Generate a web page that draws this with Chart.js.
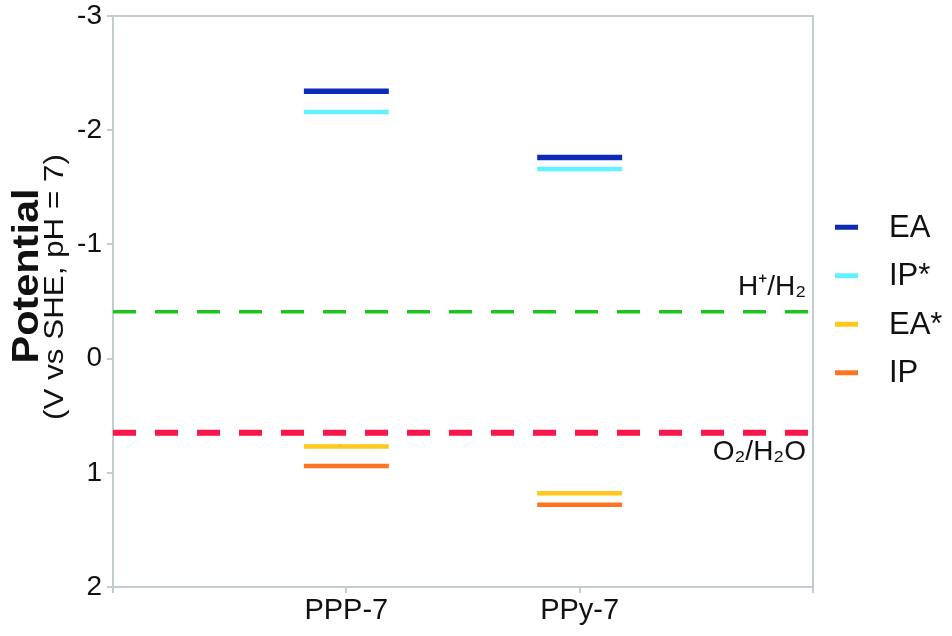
<!DOCTYPE html>
<html>
<head>
<meta charset="utf-8">
<script src="https://cdn.jsdelivr.net/npm/chart.js@4.4.1/dist/chart.umd.min.js"></script>
<style>
html,body{margin:0;padding:0;background:#fff;}
#wrap{width:952px;height:636px;position:relative;}
</style>
</head>
<body>
<div id="wrap"><canvas id="c"></canvas></div>
<script>
// ---- data ----
const categories = ['PPP-7', 'PPy-7'];
const seriesNames = ['EA', 'IP*', 'EA*', 'IP'];
const EA = [-2.34, -1.76];
const IPstar = [-2.16, -1.66];
const EAstar = [0.77, 1.18];
const IP = [0.94, 1.28];
const yTicks = [-3, -2, -1, 0, 1, 2];
const refNames = ['H⁺/H₂', 'O₂/H₂O'];
const refValues = [-0.41, 0.65];

// ---- styles ----
const FONT = '"Liberation Sans", Arial, Helvetica, sans-serif';
const seriesColors = ['#0c2ab4', '#62f2ff', '#ffc81a', '#ff7420'];
const seriesWidths = [5.5, 4.5, 4.5, 4.5];
const refColors = ['#1ec41e', '#f8164a'];
const refWidths = [3.5, 6];
const axisGray = '#c3cdd0';
const HALF = 0.182;

const seriesValues = [EA, IPstar, EAstar, IP];

function segments(vals) {
  const pts = [];
  categories.forEach((c, i) => {
    pts.push({x: i + 1 - HALF, y: vals[i]});
    pts.push({x: i + 1 + HALF, y: vals[i]});
    pts.push({x: i + 1.5, y: null});
  });
  return pts;
}

const datasets = [];
seriesNames.forEach((name, k) => {
  datasets.push({
    label: name,
    data: segments(seriesValues[k]),
    borderColor: seriesColors[k],
    backgroundColor: seriesColors[k],
    borderWidth: seriesWidths[k],
    pointRadius: 0,
    spanGaps: false,
    borderCapStyle: 'butt',
    isSeries: true
  });
});
refNames.forEach((name, k) => {
  datasets.push({
    label: name,
    data: [{x: 0, y: refValues[k]}, {x: 3, y: refValues[k]}],
    borderColor: refColors[k],
    borderWidth: refWidths[k],
    borderDash: [23, 19],
    pointRadius: 0,
    isRef: true,
    refAbove: k === 0
  });
});

const framePlugin = {
  id: 'frame',
  beforeDatasetsDraw(chart) {
    const {ctx, chartArea: a} = chart;
    ctx.save();
    ctx.strokeStyle = axisGray;
    ctx.lineWidth = 2;
    ctx.beginPath();
    ctx.moveTo(a.left, a.top);
    ctx.lineTo(a.right, a.top);
    ctx.lineTo(a.right, a.bottom);
    ctx.stroke();
    ctx.restore();
  }
};

const annotPlugin = {
  id: 'annot',
  afterDraw(chart) {
    const {ctx, chartArea: a, scales} = chart;
    ctx.save();
    // reference line labels
    ctx.fillStyle = '#111';
    ctx.font = '28px ' + FONT;
    ctx.textAlign = 'right';
    ctx.textBaseline = 'alphabetic';
    chart.data.datasets.forEach(ds => {
      if (!ds.isRef) return;
      const y = scales.y.getPixelForValue(ds.data[0].y);
      ctx.fillText(ds.label, a.right - 7, ds.refAbove ? y - 17 : y + 27);
    });
    // legend
    const series = chart.data.datasets.filter(d => d.isSeries);
    const yc = (a.top + a.bottom) / 2 - 1.5;
    const gap = 48.5;
    series.forEach((ds, k) => {
      const y = yc + (k - (series.length - 1) / 2) * gap;
      ctx.strokeStyle = ds.borderColor;
      ctx.lineWidth = 5;
      ctx.beginPath();
      ctx.moveTo(835, y);
      ctx.lineTo(858, y);
      ctx.stroke();
      ctx.fillStyle = '#111';
      ctx.font = '31px ' + FONT;
      ctx.textAlign = 'left';
      ctx.textBaseline = 'middle';
      ctx.fillText(ds.label, 889, y + 1);
    });
    // y axis title
    const midY = 276;
    ctx.fillStyle = '#111';
    ctx.textAlign = 'center';
    ctx.textBaseline = 'alphabetic';
    ctx.save();
    ctx.translate(38, midY);
    ctx.rotate(-Math.PI / 2);
    ctx.scale(1.12, 1);
    ctx.font = 'bold 37px ' + FONT;
    ctx.fillText('Potential', 0, 0);
    ctx.restore();
    ctx.save();
    ctx.translate(63, midY + 11);
    ctx.rotate(-Math.PI / 2);
    ctx.scale(1.12, 1);
    ctx.font = '28px ' + FONT;
    ctx.fillText('(V vs SHE, pH = 7)', 0, 0);
    ctx.restore();
    ctx.restore();
  }
};

new Chart(document.getElementById('c'), {
  type: 'line',
  data: {datasets},
  options: {
    responsive: true,
    maintainAspectRatio: false,
    animation: false,
    events: [],
    layout: {padding: {left: 0, right: 139, top: 16, bottom: 0}},
    plugins: {legend: {display: false}, tooltip: {enabled: false}},
    scales: {
      x: {
        type: 'linear',
        min: 0,
        max: 3,
        afterBuildTicks: s => { s.ticks = [0, 1, 2, 3].map(v => ({value: v})); },
        afterFit: s => { s.height = 49; },
        ticks: {
          callback: v => categories[v - 1] ?? '',
          font: {family: FONT, size: 29},
          color: '#111',
          padding: 1,
          maxRotation: 0,
          autoSkip: false
        },
        grid: {drawOnChartArea: false, drawTicks: true, tickLength: 6, color: axisGray, lineWidth: 2},
        border: {display: true, color: axisGray, width: 2}
      },
      y: {
        type: 'linear',
        reverse: true,
        min: -3,
        max: 2,
        afterBuildTicks: s => { s.ticks = yTicks.map(v => ({value: v})); },
        afterFit: s => { s.width = 113; s.paddingTop = 0; s.paddingBottom = 0; },
        ticks: {
          callback: v => String(v),
          font: {family: FONT, size: 28, lineHeight: 0.9},
          color: '#111',
          padding: 5
        },
        grid: {drawOnChartArea: false, drawTicks: true, tickLength: 6, color: axisGray, lineWidth: 2},
        border: {display: true, color: axisGray, width: 2}
      }
    }
  },
  plugins: [framePlugin, annotPlugin]
});
</script>
</body>
</html>
